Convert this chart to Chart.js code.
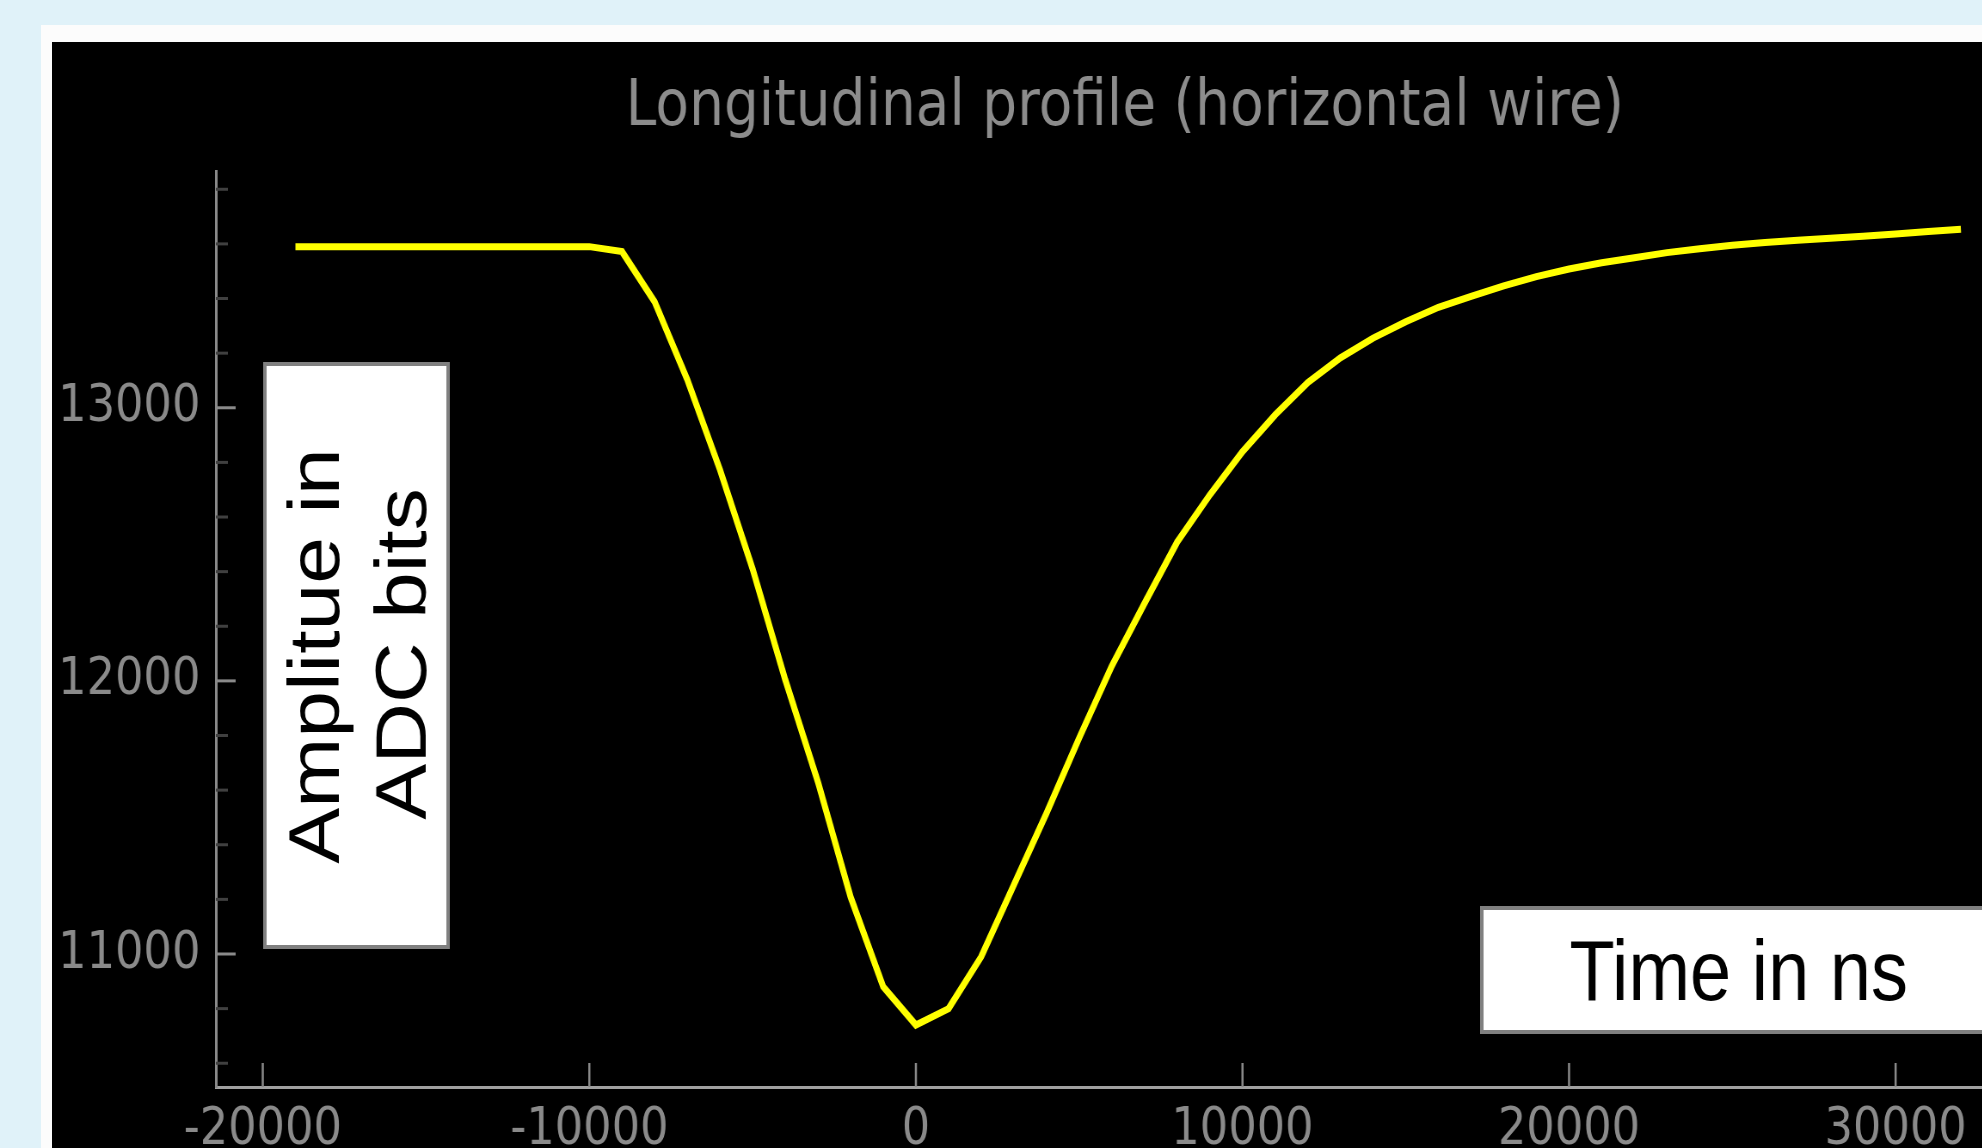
<!DOCTYPE html>
<html>
<head>
<meta charset="utf-8">
<script src="https://cdn.jsdelivr.net/npm/chart.js@4.4.1/dist/chart.umd.min.js"></script>
<style>
  html, body { margin: 0; padding: 0; width: 1982px; height: 1148px; overflow: hidden; background: #e0f2f9; }
  #frame { position: absolute; left: 41px; top: 25px; right: 0; bottom: 0; background: #fcfcfc; }
  #plotbg { position: absolute; left: 52px; top: 42px; right: 0; bottom: 0; background: #000; }
  /* the original picture is squeezed horizontally, text included */
  #squash { position: absolute; left: 0; top: 0; transform: scaleX(0.86); transform-origin: 0 0; }
</style>
</head>
<body>
<div id="frame"></div>
<div id="plotbg"></div>
<div id="squash"><canvas id="profile" width="2616" height="1148"></canvas></div>
<script>
// time in ns
var times = [
  -19000, -18000, -17000, -16000, -15000, -14000, -13000, -12000, -11000, -10000,
  -9000, -8000, -7000, -6000, -5000, -4000, -3000, -2000, -1000, 0,
  1000, 2000, 3000, 4000, 5000, 6000, 7000, 8000, 9000, 10000,
  11000, 12000, 13000, 14000, 15000, 16000, 17000, 18000, 19000, 20000,
  21000, 22000, 23000, 24000, 25000, 26000, 27000, 28000, 29000, 30000,
  31000, 32000
];
// amplitude in ADC bits
var amplitude = [
  13590, 13590, 13590, 13590, 13590, 13590, 13590, 13590, 13590, 13590,
  13572, 13388, 13103, 12773, 12410, 12004, 11630, 11209, 10880, 10740,
  10800, 10990, 11253, 11516, 11791, 12055, 12284, 12508, 12681, 12839,
  12974, 13092, 13183, 13255, 13315, 13368, 13408, 13446, 13480, 13508,
  13531, 13549, 13568, 13582, 13595, 13605, 13613, 13621, 13628, 13636,
  13645, 13654
];
var xTicks = [-20000, -10000, 0, 10000, 20000, 30000];
var yTicks = [10600, 10800, 11000, 11200, 11400, 11600, 11800, 12000, 12200, 12400,
              12600, 12800, 13000, 13200, 13400, 13600, 13800];
var yLabelled = [11000, 12000, 13000];

var points = [];
for (var i = 0; i < times.length; i++) {
  points.push({x: times[i], y: amplitude[i]});
}

/* tick marks point into the plot, and the two label boxes */
var decorations = {
  id: 'decorations',
  afterDraw: function(chart) {
    var ctx = chart.ctx;
    var xs = chart.scales.x, ys = chart.scales.y;
    ctx.save();
    ys.ticks.forEach(function(t) {
      var y = ys.getPixelForValue(t.value);
      var major = yLabelled.indexOf(t.value) >= 0;
      ctx.strokeStyle = major ? '#8a8a8a' : '#404040';
      ctx.lineWidth = 3;
      ctx.beginPath();
      ctx.moveTo(ys.right, y);
      ctx.lineTo(ys.right + (major ? 23 : 14), y);
      ctx.stroke();
    });
    xs.ticks.forEach(function(t) {
      var x = xs.getPixelForValue(t.value);
      ctx.strokeStyle = '#8a8a8a';
      ctx.lineWidth = 2.5;
      ctx.beginPath();
      ctx.moveTo(x, xs.top);
      ctx.lineTo(x, xs.top - 24);
      ctx.stroke();
    });

    // y label box
    ctx.fillStyle = '#ffffff';
    ctx.fillRect(306, 362, 217, 587);
    ctx.strokeStyle = '#808080';
    ctx.lineWidth = 4;
    ctx.strokeRect(308, 364, 213, 583);
    ctx.fillStyle = '#000000';
    ctx.font = '84px "Liberation Sans", Arial, sans-serif';
    ctx.textAlign = 'center';
    ctx.textBaseline = 'alphabetic';
    ctx.save();
    ctx.translate(394, 656);
    ctx.rotate(-Math.PI / 2);
    ctx.fillText('Amplitue in', 0, 0);
    ctx.restore();
    ctx.save();
    ctx.translate(495, 654);
    ctx.rotate(-Math.PI / 2);
    ctx.fillText('ADC bits', 0, 0);
    ctx.restore();

    // x label box
    ctx.fillStyle = '#ffffff';
    ctx.fillRect(1721, 906, 1000, 128);
    ctx.strokeStyle = '#808080';
    ctx.lineWidth = 4;
    ctx.strokeRect(1723, 908, 1000, 124);
    ctx.fillStyle = '#000000';
    ctx.font = '86px "Liberation Sans", Arial, sans-serif';
    ctx.textAlign = 'left';
    ctx.fillText('Time in ns', 1825, 1000);
    ctx.restore();
  }
};

var ctx = document.getElementById('profile');
var myChart = new Chart(ctx, {
  type: 'line',
  data: {
    datasets: [{
      data: points,
      borderColor: '#ffff00',
      borderWidth: 7,
      pointRadius: 0,
      tension: 0,
      fill: false
    }]
  },
  options: {
    responsive: false,
    maintainAspectRatio: false,
    animation: false,
    devicePixelRatio: 1,
    layout: { padding: 0 },
    plugins: {
      legend: { display: false },
      tooltip: { enabled: false },
      title: {
        display: true,
        text: 'Longitudinal profile (horizontal wire)',
        color: '#8c8c8c',
        font: { family: 'DejaVu Sans', size: 64, weight: 'normal' },
        padding: { top: 70, bottom: 25 }
      }
    },
    scales: {
      x: {
        type: 'linear',
        min: -21436,
        max: 40845,
        afterBuildTicks: function(scale) {
          scale.ticks = xTicks.map(function(v) { return {value: v}; });
        },
        afterFit: function(scale) { scale.height = 61; },
        grid: { display: false },
        border: { display: true, color: '#a0a0a0', width: 3 },
        ticks: {
          color: '#8a8a8a',
          padding: 4,
          autoSkip: false,
          maxRotation: 0,
          font: { family: 'DejaVu Sans', size: 52 },
          callback: function(v) { return String(v); }
        }
      },
      y: {
        type: 'linear',
        min: 10513,
        max: 13864,
        afterBuildTicks: function(scale) {
          scale.ticks = yTicks.map(function(v) { return {value: v}; });
        },
        afterFit: function(scale) { scale.width = 251; },
        grid: { display: false },
        border: { display: true, color: '#8a8a8a', width: 3 },
        ticks: {
          color: '#8a8a8a',
          padding: 10,
          autoSkip: false,
          font: { family: 'DejaVu Sans', size: 52 },
          callback: function(v) { return yLabelled.indexOf(v) >= 0 ? String(v) : ''; }
        }
      }
    }
  },
  plugins: [decorations]
});
</script>
</body>
</html>
